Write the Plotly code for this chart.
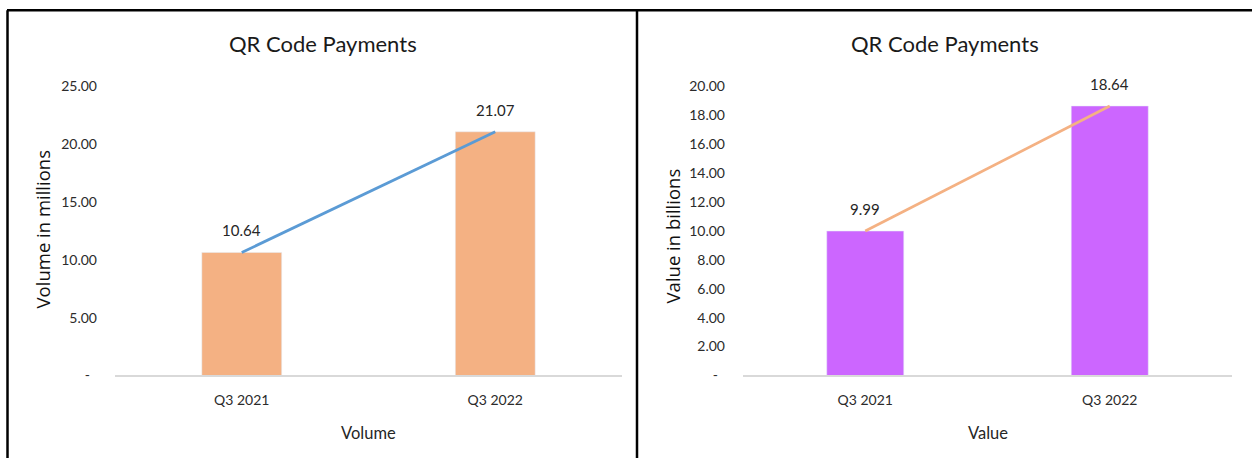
import plotly.graph_objects as go

# Quarterly QR code payment figures
quarters = ["Q3 2021", "Q3 2022"]
volume_millions = [10.64, 21.07]
value_billions = [9.99, 18.64]

volume_ticks = [0, 5, 10, 15, 20, 25]
value_ticks = [0, 2, 4, 6, 8, 10, 12, 14, 16, 18, 20]

chart_title = "QR Code Payments"

BODY_FONT = "Lato, Calibri, Carlito, sans-serif"
AXIS_TITLE_FONT = "Open Sans, Segoe UI, DejaVu Sans, sans-serif"
TEXT_DARK = "#2b2b2b"

W, H = 1252, 466
# vertical placement of the page rows onto the figure
ROW_OFFSET, ROW_SCALE = 8.7, 0.963


def tick_text(vals):
    # Accounting-style labels: zero shows as a dash
    return ["-\u00a0\u00a0" if v == 0 else f"{v:.2f}" for v in vals]


def px_x(p):
    return p / W


def px_y(p):
    # page pixel row -> paper fraction
    return 1 - ((p - ROW_OFFSET) / ROW_SCALE) / H


fig = go.Figure()

# Left panel: volume
fig.add_trace(go.Bar(x=quarters, y=volume_millions, marker_color="#F4B183",
                     xaxis="x", yaxis="y", showlegend=False))
fig.add_trace(go.Scatter(x=quarters, y=volume_millions, mode="lines",
                         line=dict(color="#5B9BD5", width=2.75),
                         xaxis="x", yaxis="y", showlegend=False))

# Right panel: value
fig.add_trace(go.Bar(x=quarters, y=value_billions, marker_color="#CC66FF",
                     xaxis="x2", yaxis="y2", showlegend=False))
fig.add_trace(go.Scatter(x=quarters, y=value_billions, mode="lines",
                         line=dict(color="#F4B183", width=2.75),
                         xaxis="x2", yaxis="y2", showlegend=False))

y_domain = [px_y(375), px_y(86)]

xaxis_common = dict(
    type="category", showgrid=False, zeroline=False,
    showline=True, linecolor="#D9D9D9", linewidth=1.5,
    ticks="", ticklabelstandoff=11,
    tickfont=dict(family=BODY_FONT, size=14, color=TEXT_DARK),
)
yaxis_common = dict(
    showgrid=False, zeroline=False, showline=False, ticks="",
    ticklabelstandoff=17,
    tickfont=dict(family=BODY_FONT, size=14, color=TEXT_DARK),
)

fig.update_layout(
    width=W, height=H,
    margin=dict(l=0, r=0, t=0, b=0),
    paper_bgcolor="white", plot_bgcolor="white",
    bargap=0.685,
    xaxis=dict(domain=[px_x(115), px_x(622)], anchor="y", **xaxis_common),
    yaxis=dict(domain=y_domain, anchor="x", range=[0, 25],
               tickvals=volume_ticks, ticktext=tick_text(volume_ticks),
               **yaxis_common),
    xaxis2=dict(domain=[px_x(743), px_x(1232)], anchor="y2", **xaxis_common),
    yaxis2=dict(domain=y_domain, anchor="x2", range=[0, 20],
                tickvals=value_ticks, ticktext=tick_text(value_ticks),
                **yaxis_common),
)

annotations = []

# Data labels above each bar
for xref, yref, vals in (("x", "y", volume_millions), ("x2", "y2", value_billions)):
    for q, v in zip(quarters, vals):
        annotations.append(dict(
            x=q, y=v, xref=xref, yref=yref, text=f"{v:.2f}",
            showarrow=False, yshift=22,
            font=dict(family=BODY_FONT, size=15, color="#262626"),
        ))

# Chart titles
for cx in (323, 945):
    annotations.append(dict(
        x=px_x(cx), y=px_y(43), xref="paper", yref="paper", text=chart_title,
        showarrow=False, xanchor="center", yanchor="middle",
        font=dict(family=BODY_FONT, size=22, color="#1a1a1a"),
    ))

# Category axis titles
for cx, label in ((368, "Volume"), (988, "Value")):
    annotations.append(dict(
        x=px_x(cx), y=px_y(432), xref="paper", yref="paper", text=label,
        showarrow=False, xanchor="center", yanchor="middle",
        font=dict(family=BODY_FONT, size=16.5, color="#262626"),
    ))

# Value axis titles
for cx, cy, label in ((42, 229, "Volume in millions"), (672, 236, "Value in billions")):
    annotations.append(dict(
        x=px_x(cx), y=px_y(cy), xref="paper", yref="paper", text=label,
        showarrow=False, textangle=-90, xanchor="center", yanchor="middle",
        font=dict(family=AXIS_TITLE_FONT, size=18.5, color="#111111"),
    ))

fig.update_layout(annotations=annotations)

# Panel frame lines
frame_top = 1 - 1.3 / H
frame = dict(type="line", xref="paper", yref="paper",
             line=dict(color="black", width=2.5))
fig.add_shape(x0=px_x(7), x1=1, y0=frame_top, y1=frame_top, **frame)
fig.add_shape(x0=px_x(7.5), x1=px_x(7.5), y0=frame_top, y1=0, **frame)
fig.add_shape(x0=px_x(637), x1=px_x(637), y0=frame_top, y1=0, **frame)

fig.write_html("out.html")
